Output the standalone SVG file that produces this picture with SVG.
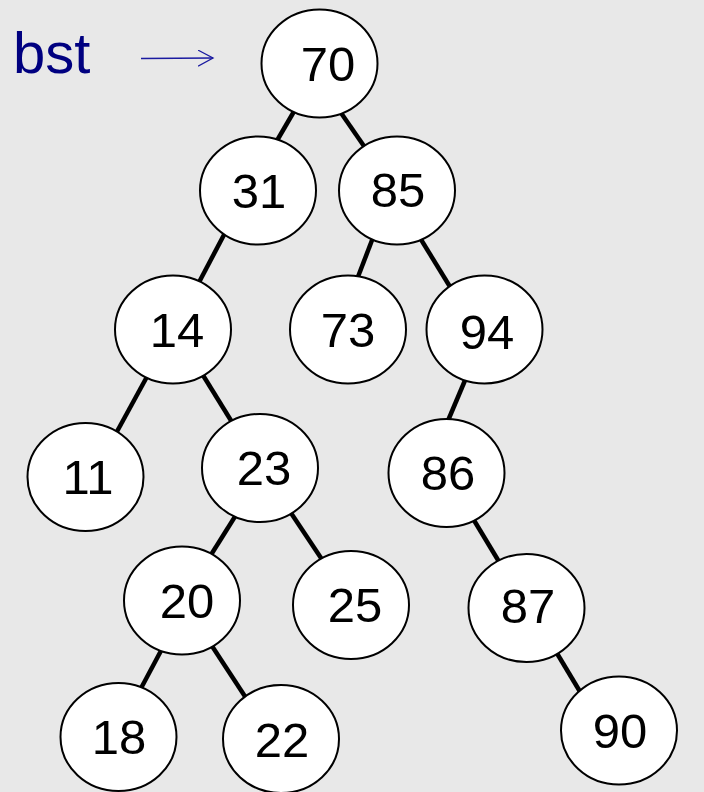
<svg xmlns="http://www.w3.org/2000/svg" width="704" height="792" viewBox="0 0 704 792">
<style>
.edge{stroke:#000;stroke-width:4.5;stroke-linecap:butt}
.node ellipse{fill:#fff;stroke:#000;stroke-width:2}
.node text{font-family:"Liberation Sans",Arial,sans-serif;font-size:49px;fill:#000;text-anchor:middle}
.lbl{font-family:"Liberation Sans",Arial,sans-serif;font-size:58px;fill:#000080}
</style>
<defs>
<marker id="open" markerWidth="20" markerHeight="20" refX="15" refY="8" orient="auto" markerUnits="userSpaceOnUse">
<path d="M0,0 L15,8 L0,16" fill="none" stroke="#1a1aa0" stroke-width="1.3"/>
</marker>
</defs>
<rect width="704" height="792" fill="#e8e8e8"/>
<g id="label">
<text class="lbl" x="13" y="73">bst</text>
<line x1="141" y1="58.5" x2="213" y2="58" stroke="#1a1aa0" stroke-width="1.3" marker-end="url(#open)"/>
</g>
<g id="connectors">
<line class="edge" x1="296" y1="108" x2="275" y2="144"/>
<line class="edge" x1="339" y1="110" x2="366" y2="149"/>
<line class="edge" x1="226" y1="231" x2="196" y2="288"/>
<line class="edge" x1="374" y1="235" x2="356" y2="282"/>
<line class="edge" x1="417" y1="233" x2="452" y2="290"/>
<line class="edge" x1="149" y1="373" x2="114" y2="437"/>
<line class="edge" x1="201" y1="372" x2="235" y2="427"/>
<line class="edge" x1="466" y1="378" x2="447" y2="423"/>
<line class="edge" x1="241" y1="507" x2="209" y2="558"/>
<line class="edge" x1="287" y1="507" x2="325" y2="564"/>
<line class="edge" x1="469" y1="512" x2="501" y2="565"/>
<line class="edge" x1="163" y1="647" x2="139" y2="692"/>
<line class="edge" x1="210" y1="643" x2="248" y2="701"/>
<line class="edge" x1="555" y1="650" x2="582" y2="695"/>
</g>
<g id="n70" class="node"><ellipse cx="319.5" cy="63.5" rx="58" ry="54"/><text x="328" y="81">70</text></g>
<g id="n31" class="node"><ellipse cx="258" cy="190.5" rx="58" ry="54"/><text x="259" y="208">31</text></g>
<g id="n85" class="node"><ellipse cx="397" cy="190.5" rx="58" ry="54"/><text x="398" y="207">85</text></g>
<g id="n14" class="node"><ellipse cx="173" cy="329.5" rx="58" ry="54"/><text x="177" y="347">14</text></g>
<g id="n73" class="node"><ellipse cx="348" cy="329.5" rx="58" ry="54"/><text x="348" y="347">73</text></g>
<g id="n94" class="node"><ellipse cx="484.5" cy="329.5" rx="58" ry="54"/><text x="487" y="349">94</text></g>
<g id="n11" class="node"><ellipse cx="85.5" cy="477" rx="58" ry="54"/><text x="88" y="494">11</text></g>
<g id="n23" class="node"><ellipse cx="260" cy="468" rx="58" ry="54"/><text x="264" y="485">23</text></g>
<g id="n86" class="node"><ellipse cx="446.5" cy="473" rx="58" ry="54"/><text x="448" y="490">86</text></g>
<g id="n20" class="node"><ellipse cx="182" cy="600.5" rx="58" ry="54"/><text x="187" y="618">20</text></g>
<g id="n25" class="node"><ellipse cx="351" cy="605" rx="58" ry="54"/><text x="355" y="622">25</text></g>
<g id="n87" class="node"><ellipse cx="526.5" cy="608" rx="58" ry="54"/><text x="528" y="623">87</text></g>
<g id="n18" class="node"><ellipse cx="118.5" cy="737" rx="58" ry="54"/><text x="119" y="754">18</text></g>
<g id="n22" class="node"><ellipse cx="281" cy="739" rx="58" ry="54"/><text x="282" y="757">22</text></g>
<g id="n90" class="node"><ellipse cx="619" cy="730.5" rx="58" ry="54"/><text x="620" y="748">90</text></g>
</svg>
